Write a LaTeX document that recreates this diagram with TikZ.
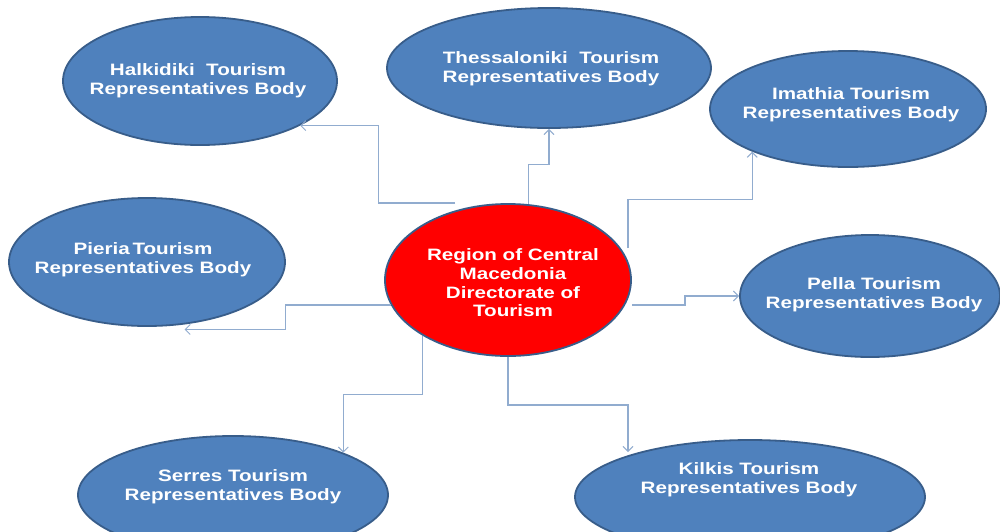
\documentclass[tikz,border=0pt]{standalone}
\usepackage{fontspec}
\newfontfamily\lab[FakeStretch=1.25]{Liberation Sans}
\usetikzlibrary{shapes.geometric,arrows.meta}
\definecolor{bubble}{HTML}{4F81BD}
\definecolor{rim}{HTML}{385D8A}
\definecolor{core}{HTML}{FF0000}
\definecolor{wire}{RGB}{145,172,207}
\tikzset{
  rep/.style={ellipse, draw=rim, line width=1.8pt, fill=bubble, inner sep=0pt},
  hub/.style={rep, fill=core},
  txt/.style={text=white, align=center, inner sep=0pt,
    font=\lab\bfseries\fontsize{16.5}{19}\selectfont},
  conn/.style={draw=wire, line width=1.2pt,
    -{Straight Barb[length=5pt,width=10pt,line width=1pt]}}
}
\begin{document}
\begin{tikzpicture}[x=1pt,y=-1pt]
\useasboundingbox (0,0) rectangle (1000,531);
\clip (0,0) rectangle (1000,531);
\fill[white] (0,0) rectangle (1000,531);
% nodes
\node[rep, minimum width=274pt, minimum height=128pt] (h) at (200,81) {};
\node[rep, minimum width=324pt, minimum height=120pt] (t) at (549,68) {};
\node[rep, minimum width=276pt, minimum height=116pt] (i) at (848,109) {};
\node[rep, minimum width=276pt, minimum height=128pt] (pi) at (147,262) {};
\node[rep, minimum width=260pt, minimum height=122pt] (pe) at (870,296) {};
\node[rep, minimum width=310pt, minimum height=118pt] (s) at (233,495) {};
\node[rep, minimum width=350pt, minimum height=114pt] (k) at (750,497) {};
\node[hub, minimum width=246pt, minimum height=152pt] (c) at (508,280) {};
% labels
\node[txt] (hT) at (198,81) {Halkidiki\ \ Tourism\\Representatives Body};
\node[txt] (tT) at (551,69) {Thessaloniki\ \ Tourism\\Representatives Body};
\node[txt] (iT) at (851,105) {Imathia Tourism\\Representatives Body};
\node[txt] (piT) at (143,260) {Pieria\,Tourism\\Representatives Body};
\node[txt] (peT) at (874,295) {Pella Tourism\\Representatives Body};
\node[txt] (sT) at (233,487) {Serres Tourism\\Representatives Body};
\node[txt] (kT) at (749,480) {Kilkis Tourism\\Representatives Body};
\node[txt, font=\lab\bfseries\fontsize{16.5}{18.7}\selectfont] (cT) at (513,283)
  {Region of Central\\Macedonia\\Directorate of\\Tourism};
% free ends
\coordinate (sH) at (455,203);
\coordinate (sI) at (628,248);
\coordinate (sP) at (632,305);
% connectors
\draw[conn] (sH) -| ([xshift=78pt]h.-24) -- (h.-24);
\draw[conn] (c.75) -- ++(0,-40) -| (t.south);
\draw[conn] (sI) |- ([yshift=-48pt]i.204) -- (i.204);
\draw[conn] (sP) -- ++(53,0) |- (pe.west);
\draw[conn] (c.south) -- ++(0,48) -| ([xshift=-4pt,yshift=2pt]k.160);
\draw[conn] (c.213) -- ++(0,59) -| (s.21);
\draw[conn] (c.192) -- ++(-105,0) |- ([yshift=-5pt]pi.-59);
\end{tikzpicture}
\end{document}
